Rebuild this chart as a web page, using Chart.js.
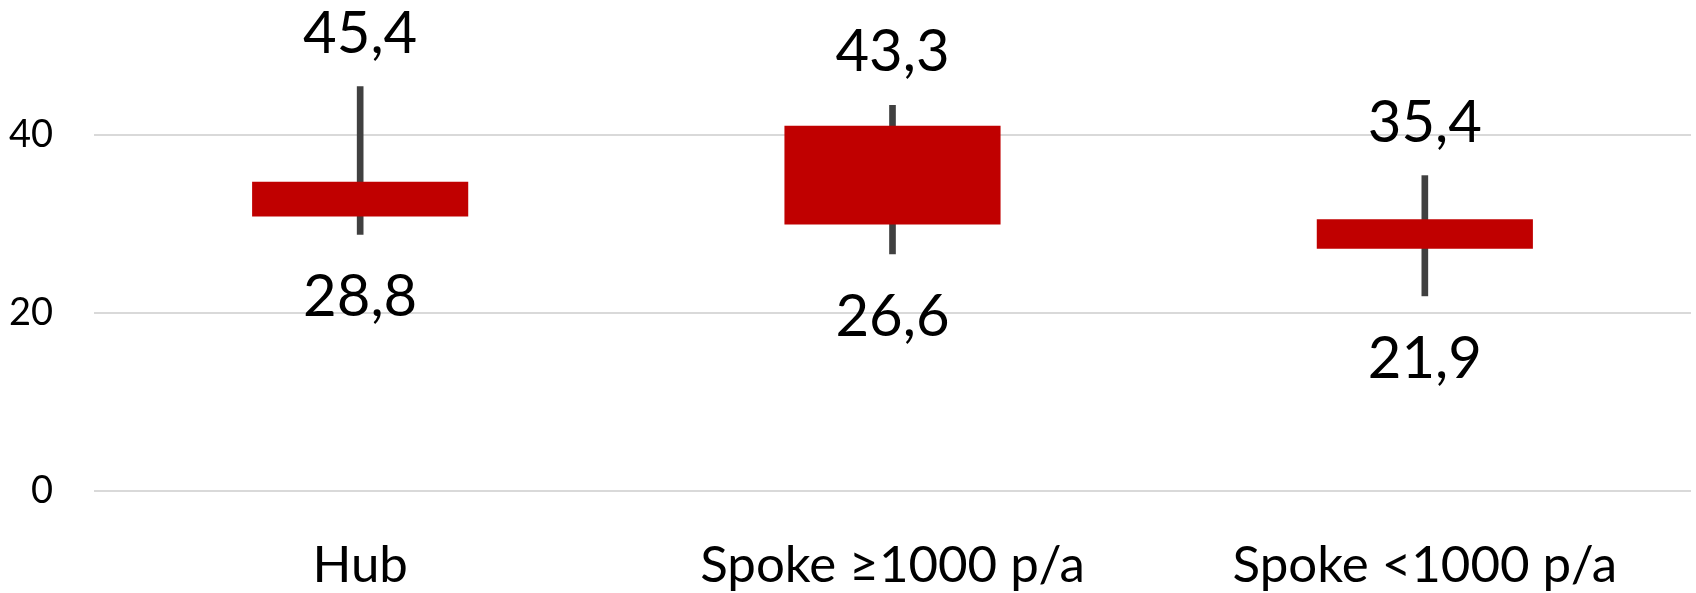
<!DOCTYPE html>
<html>
<head>
<meta charset="utf-8">
<script src="https://cdn.jsdelivr.net/npm/chart.js@4/dist/chart.umd.min.js"></script>
<style>
  html, body { margin: 0; padding: 0; background: #ffffff; }
  #wrap { width: 1696px; height: 593px; }
</style>
</head>
<body>
<div id="wrap"><canvas id="c" width="1696" height="593"></canvas></div>
<script>
const categories = ['Hub', 'Spoke \u22651000 p/a', 'Spoke <1000 p/a'];
const minValues = [28.8, 26.6, 21.9];
const maxValues = [45.4, 43.3, 35.4];
const boxLow = [30.8, 29.9, 27.2];
const boxHigh = [34.7, 41.0, 30.5];
const yTicks = [0, 20, 40];

const fmt = v => v.toFixed(1).replace('.', ',');

const labelPlugin = {
  id: 'rangeLabels',
  afterDatasetsDraw(chart) {
    const meta = chart.getDatasetMeta(1);
    const ctx = chart.ctx;
    ctx.save();
    ctx.font = '58px Lato';
    ctx.fillStyle = '#000000';
    ctx.textAlign = 'center';
    ctx.textBaseline = 'alphabetic';
    meta.data.forEach((el, i) => {
      const top = Math.min(el.y, el.base);
      const bottom = Math.max(el.y, el.base);
      ctx.fillText(fmt(maxValues[i]), el.x, top - 34);
      ctx.fillText(fmt(minValues[i]), el.x, bottom + 82);
    });
    ctx.restore();
  }
};

new Chart(document.getElementById('c'), {
  type: 'bar',
  data: {
    labels: categories,
    datasets: [
      {
        label: 'Box',
        data: categories.map((_, i) => [boxLow[i], boxHigh[i]]),
        backgroundColor: '#C00000',
        borderWidth: 0,
        grouped: false,
        categoryPercentage: 1,
        barPercentage: 0.406,
        order: 0
      },
      {
        label: 'Range',
        data: categories.map((_, i) => [minValues[i], maxValues[i]]),
        backgroundColor: '#404040',
        borderWidth: 0,
        grouped: false,
        barThickness: 6,
        order: 1
      }
    ]
  },
  options: {
    responsive: false,
    animation: false,
    devicePixelRatio: 1,
    layout: { padding: { top: 1, right: 5, left: 0, bottom: 0 } },
    plugins: {
      legend: { display: false },
      tooltip: { enabled: false }
    },
    scales: {
      x: {
        grid: { display: false, drawTicks: false },
        border: { display: false },
        ticks: {
          font: { family: 'Lato', size: 51 },
          color: '#000000',
          padding: 44,
          maxRotation: 0,
          autoSkip: false
        },
        afterFit(scale) { scale.height = 102; }
      },
      y: {
        min: 0,
        max: 55,
        grid: { color: '#D9D9D9', lineWidth: 2, drawTicks: false },
        border: { display: false },
        afterBuildTicks(scale) { scale.ticks = yTicks.map(v => ({ value: v })); },
        ticks: {
          font: { family: 'Lato', size: 38 },
          color: '#000000',
          padding: 41
        },
        afterFit(scale) {
          scale.width = 94;
          scale.paddingTop = 0;
          scale.paddingBottom = 0;
        }
      }
    }
  },
  plugins: [labelPlugin]
});
</script>
</body>
</html>
